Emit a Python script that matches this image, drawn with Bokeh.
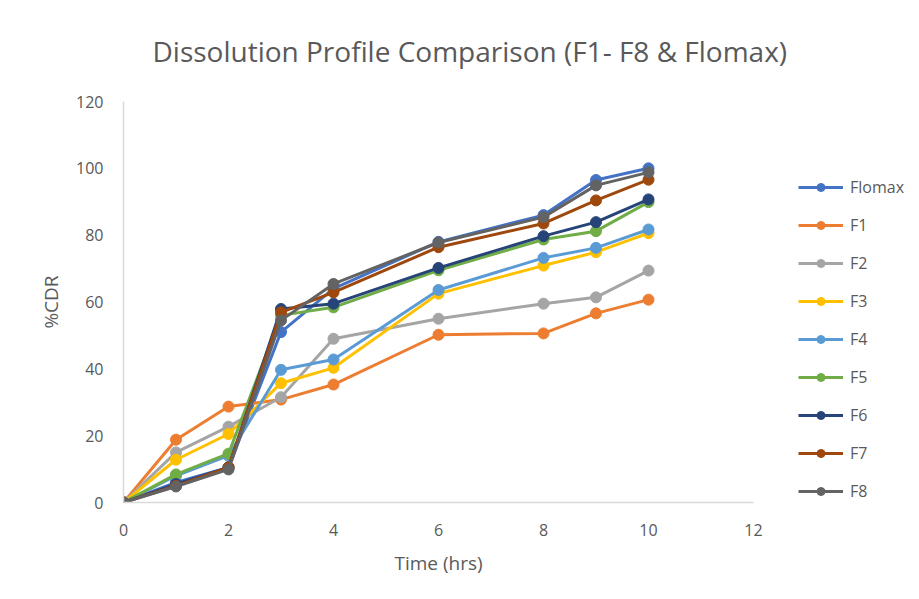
from bokeh.plotting import figure
from bokeh.models import Legend, LegendItem, FixedTicker, Title
from bokeh.embed import file_html
from bokeh.resources import INLINE

time_hrs = [0, 1, 2, 3, 4, 6, 8, 9, 10]
series_names = ["Flomax", "F1", "F2", "F3", "F4", "F5", "F6", "F7", "F8"]
flomax = [0, 6, 10.5, 51, 64, 78, 86, 96.5, 100]
f1 = [0, 18.8, 28.7, 30.8, 35.3, 50.2, 50.6, 56.6, 60.7]
f2 = [0, 15, 22.7, 31.5, 49, 55, 59.5, 61.4, 69.4]
f3 = [0, 12.8, 20.5, 35.7, 40.3, 62.5, 70.9, 74.9, 80.6]
f4 = [0, 8, 14, 39.7, 42.8, 63.6, 73.2, 76.2, 81.7]
f5 = [0, 8.4, 14.6, 56, 58.4, 69.5, 78.7, 81.2, 89.9]
f6 = [0, 5.5, 10.5, 57.9, 59.5, 70.2, 79.7, 83.9, 90.7]
f7 = [0, 5, 10.5, 56.9, 62.9, 76.4, 83.5, 90.4, 96.6]
f8 = [0, 4.8, 9.9, 54.5, 65.4, 77.8, 85.4, 94.9, 98.8]
all_values = [flomax, f1, f2, f3, f4, f5, f6, f7, f8]
colors = ["#4472C4", "#ED7D31", "#A5A5A5", "#FFC000", "#5B9BD5",
          "#70AD47", "#264478", "#9E480E", "#636363"]
x_ticks = [0, 2, 4, 6, 8, 10, 12]
y_ticks = [0, 20, 40, 60, 80, 100, 120]

FONT = "Open Sans"
TXT = "#595959"

p = figure(frame_width=630, frame_height=401, x_range=(0, 12), y_range=(0, 120),
           output_backend="svg", toolbar_location=None,
           min_border_left=123, min_border_right=150,
           min_border_top=101, min_border_bottom=89)

p.title.text = "Dissolution Profile Comparison (F1- F8 & Flomax)"
p.title.text_font = FONT
p.title.text_font_size = "28px"
p.title.text_font_style = "normal"
p.title.text_color = TXT
p.title.align = "left"
p.title.offset = 29
# empty spacer between the title and the plotting area
spacer = Title(text=" ", text_font_size="13px")
p.add_layout(spacer, "above")

p.outline_line_color = None
p.xgrid.grid_line_color = None
p.ygrid.grid_line_color = None

for ax in (p.xaxis[0], p.yaxis[0]):
    ax.axis_line_color = "#D9D9D9"
    ax.axis_line_width = 1.5
    ax.major_tick_line_color = None
    ax.minor_tick_line_color = None
    ax.major_label_text_font = FONT
    ax.major_label_text_font_size = "16px"
    ax.major_label_text_color = TXT
    ax.axis_label_text_font = FONT
    ax.axis_label_text_font_size = "19px"
    ax.axis_label_text_font_style = "normal"
    ax.axis_label_text_color = TXT

p.xaxis.ticker = FixedTicker(ticks=x_ticks)
p.yaxis.ticker = FixedTicker(ticks=y_ticks)
p.xaxis.axis_label = "Time (hrs)"
p.yaxis.axis_label = "%CDR"
p.xaxis.major_label_standoff = 15
p.yaxis.major_label_standoff = 14
p.xaxis.axis_label_standoff = 11
p.yaxis.axis_label_standoff = 9

items = []
for name, vals, c in zip(series_names, all_values, colors):
    r1 = p.line(time_hrs, vals, line_color=c, line_width=3)
    r2 = p.scatter(time_hrs, vals, marker="circle", size=11,
                   fill_color=c, line_color=c)
    items.append(LegendItem(label=name, renderers=[r1, r2]))

legend = Legend(items=items, location="top_left")
legend.glyph_width = 45
legend.glyph_height = 20
legend.label_height = 20
legend.spacing = 16
legend.padding = 0
legend.margin = 45
legend.title = " "
legend.title_text_font_size = "10px"
legend.title_standoff = 19
legend.label_standoff = 7
legend.label_text_font = FONT
legend.label_text_font_size = "16px"
legend.label_text_color = TXT
legend.border_line_color = None
legend.background_fill_alpha = 0
p.add_layout(legend, "right")

open("out.html", "w").write(file_html(p, INLINE))
